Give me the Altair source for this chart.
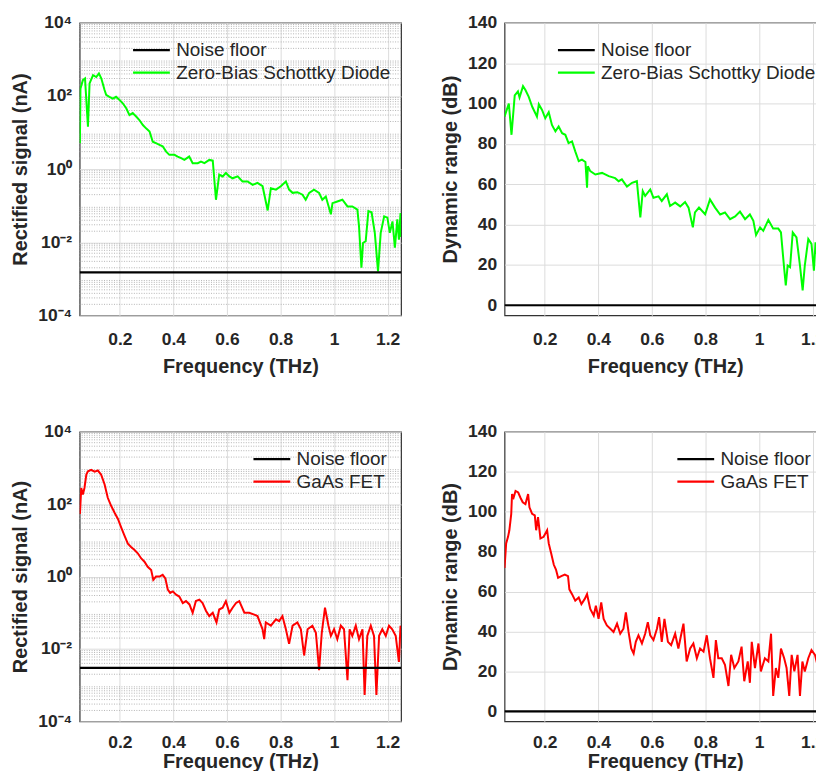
import altair as alt
import pandas as pd

# ---------------- data ----------------
# Top-left: Zero-Bias Schottky Diode, rectified signal (nA)
zbsd_sig_freq = [0.051, 0.053, 0.062, 0.070, 0.081, 0.087, 0.100, 0.112, 0.122, 0.131,
                 0.143, 0.149, 0.161, 0.174, 0.186, 0.199, 0.211, 0.224, 0.236, 0.248,
                 0.261, 0.273, 0.286, 0.298, 0.311, 0.323, 0.335, 0.348, 0.360, 0.373,
                 0.385, 0.404, 0.416, 0.429, 0.441, 0.459, 0.472, 0.491, 0.503, 0.516,
                 0.534, 0.547, 0.559, 0.571, 0.584, 0.596, 0.609, 0.621, 0.640, 0.658,
                 0.677, 0.696, 0.714, 0.733, 0.752, 0.764, 0.783, 0.801, 0.820, 0.832,
                 0.845, 0.863, 0.882, 0.894, 0.907, 0.925, 0.944, 0.956, 0.969, 0.988,
                 0.994, 1.012, 1.031, 1.050, 1.068, 1.087, 1.093, 1.102, 1.108, 1.118,
                 1.128, 1.140, 1.152, 1.164, 1.174, 1.187, 1.199, 1.208, 1.218, 1.227,
                 1.236, 1.242, 1.248, 1.250]
zbsd_sig_nA = [5.1, 158, 270, 300, 14.5, 220, 370, 330, 415, 300,
               145, 107, 95, 85, 95, 78, 63, 46, 30, 34,
               27.5, 22, 16, 13, 10.7, 5.6, 5.1, 4.6, 4.2, 3.0,
               2.45, 2.45, 2.2, 2.0, 1.78, 2.2, 1.45, 1.45, 1.6, 1.45,
               1.78, 1.7, 0.145, 0.71, 0.63, 0.78, 0.63, 0.56, 0.63, 0.46,
               0.46, 0.37, 0.42, 0.34, 0.074, 0.30, 0.275, 0.34, 0.46, 0.275,
               0.224, 0.234, 0.20, 0.145, 0.224, 0.275, 0.224, 0.145, 0.178, 0.058,
               0.117, 0.13, 0.145, 0.095, 0.095, 0.078, 0.0275, 0.002, 0.0095, 0.0107,
               0.071, 0.066, 0.018, 0.0016, 0.018, 0.051, 0.047, 0.018, 0.037, 0.0071,
               0.042, 0.0117, 0.063, 0.014]
zbsd_noise_nA = 1.5e-3

# Top-right: Zero-Bias Schottky Diode, dynamic range (dB)
zbsd_dr_freq = [0.050, 0.066, 0.076, 0.088, 0.100, 0.106, 0.119, 0.128, 0.140, 0.153,
                0.171, 0.178, 0.190, 0.202, 0.215, 0.227, 0.240, 0.252, 0.265, 0.277,
                0.289, 0.302, 0.314, 0.327, 0.339, 0.352, 0.358, 0.361, 0.370, 0.389,
                0.414, 0.439, 0.463, 0.476, 0.488, 0.507, 0.526, 0.544, 0.557, 0.566,
                0.575, 0.594, 0.606, 0.625, 0.637, 0.656, 0.668, 0.687, 0.706, 0.724,
                0.737, 0.753, 0.761, 0.776, 0.799, 0.817, 0.836, 0.855, 0.873, 0.892,
                0.911, 0.929, 0.948, 0.966, 0.979, 0.989, 1.004, 1.016, 1.035, 1.053,
                1.072, 1.082, 1.093, 1.100, 1.107, 1.116, 1.126, 1.140, 1.153, 1.163,
                1.171, 1.184, 1.196, 1.205, 1.211, 1.224, 1.234, 1.245, 1.250]
zbsd_dr_dB = [93.5, 100, 84.5, 104, 106, 103, 108.6, 106.7, 103.4, 98.5,
              93.5, 99.6, 96.8, 92.7, 95.7, 89.4, 86.2, 88.6, 85.3, 84.5,
              80.4, 81.2, 76.3, 71.4, 72.2, 71, 58.3, 68.9, 66.5, 64.8,
              65.6, 64, 63, 61.5, 62.4, 58.8, 60.7, 61.5, 43.5, 56.6,
              54.2, 57.4, 53.3, 54, 51.7, 55, 49.2, 50.9, 49, 51.2,
              48.4, 38.6, 46, 48.4, 45.1, 52.5, 48.4, 45, 46, 42.7,
              44, 46.4, 42.7, 45, 41.9, 34.8, 38.6, 36.9, 42.3, 38,
              38, 36.1, 19.7, 9.8, 19.7, 18.9, 36.1, 33.6, 19.7, 7.4,
              19.7, 32.8, 30.4, 17.2, 31.2, 17.2, 32, 20, 28]

# Bottom-left: GaAs FET, rectified signal (nA)
fet_sig_freq = [0.051, 0.056, 0.062, 0.068, 0.075, 0.081, 0.093, 0.106, 0.118, 0.130,
                0.143, 0.155, 0.168, 0.180, 0.193, 0.205, 0.217, 0.230, 0.242, 0.255,
                0.267, 0.280, 0.292, 0.304, 0.317, 0.325, 0.335, 0.348, 0.360, 0.370,
                0.379, 0.388, 0.398, 0.410, 0.422, 0.435, 0.447, 0.460, 0.472, 0.484,
                0.497, 0.509, 0.522, 0.534, 0.547, 0.561, 0.571, 0.584, 0.596, 0.609,
                0.621, 0.634, 0.646, 0.665, 0.683, 0.702, 0.714, 0.733, 0.739, 0.745,
                0.764, 0.783, 0.795, 0.807, 0.820, 0.832, 0.845, 0.863, 0.876, 0.888,
                0.901, 0.919, 0.932, 0.944, 0.954, 0.966, 0.979, 0.988, 1.000, 1.012,
                1.025, 1.037, 1.050, 1.058, 1.068, 1.081, 1.093, 1.106, 1.114, 1.124,
                1.137, 1.149, 1.158, 1.168, 1.180, 1.193, 1.205, 1.217, 1.230, 1.242,
                1.248, 1.250]
fet_sig_nA = [54, 280, 186, 280, 660, 810, 890, 790, 850, 660,
              355, 150, 89, 59, 39, 23, 13.8, 8.1, 6.6, 5.4,
              4.4, 3.16, 2.57, 1.86, 1.51, 0.81, 1.0, 1.0, 1.12, 0.89,
              0.44, 0.355, 0.39, 0.316, 0.28, 0.186, 0.21, 0.17, 0.1, 0.21,
              0.23, 0.186, 0.112, 0.081, 0.1, 0.054, 0.123, 0.138, 0.21, 0.1,
              0.138, 0.186, 0.21, 0.1, 0.1, 0.089, 0.081, 0.035, 0.0186, 0.054,
              0.044, 0.066, 0.059, 0.081, 0.035, 0.0138, 0.044, 0.054, 0.035, 0.0066,
              0.035, 0.044, 0.028, 0.0026, 0.028, 0.138, 0.044, 0.023, 0.035, 0.0186,
              0.044, 0.035, 0.00138, 0.035, 0.023, 0.044, 0.0186, 0.035, 0.00054, 0.023,
              0.044, 0.023, 0.00054, 0.023, 0.035, 0.023, 0.044, 0.035, 0.023, 0.0044,
              0.044, 0.035]
fet_noise_nA = 3.0e-3

# Bottom-right: GaAs FET, dynamic range (dB)
fet_dr_freq = [0.050, 0.056, 0.063, 0.068, 0.075, 0.078, 0.084, 0.091, 0.101, 0.109,
               0.118, 0.128, 0.138, 0.143, 0.153, 0.163, 0.168, 0.175, 0.184, 0.196,
               0.209, 0.215, 0.224, 0.234, 0.242, 0.250, 0.262, 0.275, 0.287, 0.292,
               0.302, 0.314, 0.327, 0.337, 0.349, 0.358, 0.370, 0.383, 0.391, 0.401,
               0.411, 0.420, 0.432, 0.445, 0.457, 0.470, 0.482, 0.494, 0.503, 0.513,
               0.523, 0.532, 0.540, 0.550, 0.563, 0.575, 0.585, 0.594, 0.606, 0.619,
               0.627, 0.637, 0.647, 0.660, 0.672, 0.687, 0.699, 0.709, 0.718, 0.730,
               0.743, 0.755, 0.768, 0.780, 0.793, 0.805, 0.817, 0.830, 0.839, 0.848,
               0.861, 0.873, 0.886, 0.896, 0.908, 0.923, 0.935, 0.945, 0.958, 0.966,
               0.973, 0.985, 0.998, 1.007, 1.022, 1.035, 1.045, 1.053, 1.063, 1.072,
               1.082, 1.094, 1.103, 1.113, 1.122, 1.132, 1.144, 1.153, 1.162, 1.171,
               1.184, 1.196, 1.209, 1.221, 1.234, 1.241, 1.250]
fet_dr_dB = [71.8, 84.1, 87.4, 90.7, 98.9, 108.8, 107.1, 110.4, 109.6, 107.1,
             104.7, 103.8, 108.8, 102.2, 98.9, 98.1, 90.7, 97.3, 86.6, 87.4,
             90.7, 84.1, 79.2, 73.4, 71, 66.9, 67.7, 68.5, 67.7, 61.1,
             58.7, 55.4, 57, 53.7, 56.2, 58.7, 51.3, 48, 52.9, 46.3,
             54.6, 46.3, 43, 41.4, 39.8, 43.9, 38.9, 41.4, 49.6, 39.8,
             31.5, 29, 34.8, 38.1, 34, 38.9, 44.7, 38.1, 35.7, 41.4,
             47.2, 34.8, 46.3, 34.8, 33.2, 38.9, 31.5, 38.1, 43.9, 25,
             31.5, 34, 26.6, 31.5, 29.9, 38.1, 26.6, 16.8, 35.7, 26.6,
             26.6, 23.3, 12.7, 28.3, 21.7, 25, 32.4, 15.1, 25, 14.3,
             34.8, 21.7, 34, 20, 26.6, 25, 38.9, 7.7, 21.7, 16.8,
             31.5, 26.6, 21.7, 7.7, 28.3, 20, 28.3, 7.7, 25, 20,
             26.6, 30.7, 28.3, 21.7, 18.4, 23.3, 20]

noise_dr_dB = 0.0

# axes
freq_range = [0.05, 1.25]
freq_ticks = [0.2, 0.4, 0.6, 0.8, 1.0, 1.2]
sig_range = [1e-4, 1e4]
sig_ticks = [1e-4, 1e-2, 1.0, 1e2, 1e4]
sig_minor_ticks = [k * 10.0 ** e for e in range(-4, 4) for k in range(2, 10)]
dr_range = [-5, 140]
dr_ticks = [0, 20, 40, 60, 80, 100, 120, 140]

NOISE = "Noise floor"
ZBSD = "Zero-Bias Schottky Diode"
FET = "GaAs FET"

W = 323
H_TOP, H_BOTTOM = 294, 291
FONT = "Liberation Sans"
TXT = "#262626"

sig_label_expr = ("datum.value >= 9999 ? '10⁴' : datum.value >= 99 ? '10²' : "
                  "datum.value >= 0.99 ? '10⁰' : datum.value >= 0.0099 ? '10⁻²' : '10⁻⁴'")


def panel(freq, vals, noise_val, label, color, log, lx, ly, bottom_row):
    sig_df = pd.DataFrame({"f": freq, "v": vals, "series": label})
    noise_df = pd.DataFrame({"f": freq_range, "v": [noise_val, noise_val], "series": NOISE})

    xscale = alt.Scale(domain=freq_range, nice=False, zero=False)
    xaxis = alt.Axis(values=freq_ticks, format="~g", title="Frequency (THz)",
                     labelPadding=12 if bottom_row else 15,
                     titlePadding=1 if bottom_row else 9,
                     labelFlush=False, grid=True)
    if log:
        yscale = alt.Scale(type="log", domain=sig_range, nice=False)
        yaxis = alt.Axis(values=sig_ticks, labelExpr=sig_label_expr,
                         title="Rectified signal (nA)", labelPadding=8, titlePadding=7,
                         labelFlush=False, grid=True)
    else:
        yscale = alt.Scale(domain=dr_range, nice=False, zero=False)
        yaxis = alt.Axis(values=dr_ticks, title="Dynamic range (dB)",
                         labelPadding=8, titlePadding=7, labelFlush=False, grid=True)

    cscale = alt.Scale(domain=[NOISE, label], range=["#000000", color])
    legend = alt.Legend(orient="none", legendX=lx, legendY=ly, title=None,
                        symbolType="M-5,0H1", symbolSize=152, symbolStrokeWidth=2.2,
                        labelOffset=3, rowPadding=2.5, padding=0, labelLimit=500,
                        labelFont=FONT, labelFontSize=19, labelColor=TXT,
                        labelFontWeight="normal")

    layers = []
    if log:
        minor_df = pd.DataFrame({"v": sig_minor_ticks})
        layers.append(
            alt.Chart(minor_df).mark_rule(color="#b4b4b4", strokeWidth=1, strokeDash=[1, 1.5])
            .encode(y=alt.Y("v:Q", scale=yscale, axis=yaxis))
        )
    sig_line = alt.Chart(sig_df).mark_line(strokeWidth=2, clip=True).encode(
        x=alt.X("f:Q", scale=xscale, axis=xaxis),
        y=alt.Y("v:Q", scale=yscale, axis=yaxis),
        color=alt.Color("series:N", scale=cscale, legend=legend),
    )
    noise_line = alt.Chart(noise_df).mark_line(strokeWidth=2.2, clip=True).encode(
        x=alt.X("f:Q", scale=xscale, axis=xaxis),
        y=alt.Y("v:Q", scale=yscale, axis=yaxis),
        color=alt.Color("series:N", scale=cscale, legend=legend),
    )
    layers += [sig_line, noise_line]
    return alt.layer(*layers).properties(width=W, height=H_BOTTOM if bottom_row else H_TOP)


p1 = panel(zbsd_sig_freq, zbsd_sig_nA, zbsd_noise_nA, ZBSD, "#00ff00", True, 75, 18, False)
p2 = panel(zbsd_dr_freq, zbsd_dr_dB, noise_dr_dB, ZBSD, "#00ff00", False, 75, 18, False)
p3 = panel(fet_sig_freq, fet_sig_nA, fet_noise_nA, FET, "#ff0000", True, 196, 18, True)
p4 = panel(fet_dr_freq, fet_dr_dB, noise_dr_dB, FET, "#ff0000", False, 195, 18, True)

chart = (
    alt.concat(p1, p2, p3, p4, columns=2, spacing={"row": 117, "column": 104}, bounds="flush")
    .resolve_scale(color="independent")
    .properties(padding={"left": 2, "top": 3, "right": -11, "bottom": -4})
    .configure_view(stroke="#333333", strokeWidth=1.2)
    .configure_axis(
        labelFont=FONT, labelFontWeight="bold", labelFontSize=17.5, labelColor=TXT,
        titleFont=FONT, titleFontWeight="bold", titleFontSize=20, titleColor=TXT,
        gridColor="#dcdcdc", gridWidth=1, domain=False, ticks=False, tickSize=0,
    )
    .configure_legend(padding=0)
)

chart.save("out.html", embed_options={"renderer": "svg", "actions": False})
